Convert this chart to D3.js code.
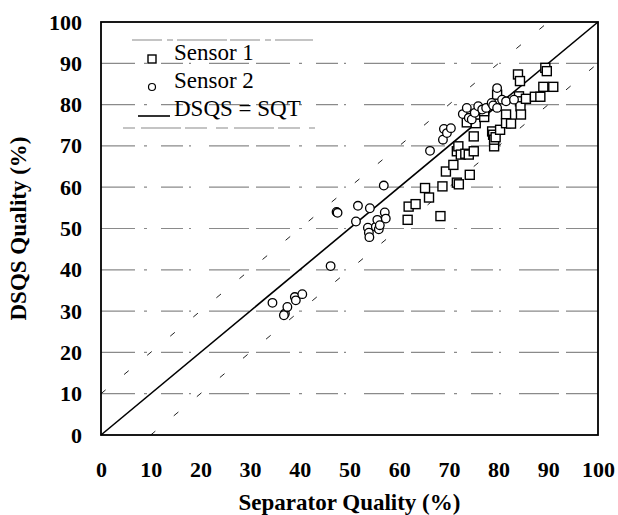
<!DOCTYPE html>
<head>
  <script src="https://d3js.org/d3.v7.min.js"></script>
  <style>
    body {
      margin: 0;
      overflow: hidden;
      background: white;
    }
    text {
      font-family: 'Liberation Serif', 'Times New Roman', serif;
    }
  </style>
</head>
<body>
  <svg width="618" height="515"></svg>
  <script>
    (function (d3) {
      'use strict';

      // Sensor 1 (squares)
      const sensor1X = [61.7, 61.9, 63.3, 65.2, 66.0, 68.3, 68.7, 69.4, 70.9, 71.6, 72.0, 71.6, 71.9, 72.4, 73.3, 74.0,
        74.2, 75.0, 75.0, 73.6, 75.4, 75.7, 77.1, 77.1, 78.7, 78.9, 79.1, 79.1, 79.4, 80.3, 79.7, 81.5, 81.5, 82.5,
        83.9, 84.3, 84.1, 84.3, 84.4, 84.5, 85.5, 87.3, 88.4, 89.0, 89.4, 89.7, 91.0];
      const sensor1Y = [52.1, 55.3, 55.9, 59.8, 57.5, 53.0, 60.2, 63.8, 65.4, 61.1, 60.7, 68.7, 69.9, 67.9, 68.1, 67.9,
        63.0, 68.7, 72.3, 75.7, 75.5, 77.6, 77.0, 78.4, 73.5, 72.7, 69.9, 71.5, 72.1, 73.9, 82.4, 77.6, 75.5, 75.4,
        87.3, 85.7, 82.0, 80.8, 79.6, 77.6, 81.4, 81.9, 81.9, 84.3, 88.9, 88.1, 84.3];

      // Sensor 2 (circles)
      const sensor2X = [34.5, 37.0, 36.8, 37.5, 39.0, 39.2, 40.5, 46.2, 47.4, 47.6, 51.3, 51.7, 54.1, 53.7, 53.9, 54.0,
        55.3, 55.6, 55.9, 56.1, 56.9, 57.1, 57.3, 66.2, 68.8, 69.0, 69.6, 70.4, 72.8, 73.6, 74.0, 74.6, 75.2, 75.9,
        76.7, 77.5, 78.6, 78.9, 79.7, 79.7, 80.7, 81.5, 83.1];
      const sensor2Y = [32.0, 29.4, 29.0, 31.0, 33.4, 32.6, 34.1, 40.9, 54.0, 53.8, 51.7, 55.5, 54.9, 50.2, 49.0, 47.9,
        50.4, 52.1, 49.8, 50.8, 60.4, 53.9, 52.4, 68.8, 71.5, 74.1, 73.1, 74.3, 77.7, 79.2, 76.8, 76.4, 78.0, 79.6,
        78.8, 79.2, 80.4, 79.8, 84.0, 79.2, 81.2, 80.8, 81.2];

      const xTicks = [0, 10, 20, 30, 40, 50, 60, 70, 80, 90, 100];
      const yTicks = [0, 10, 20, 30, 40, 50, 60, 70, 80, 90, 100];
      const gridValues = [10, 20, 30, 40, 50, 60, 70, 80, 90];
      const legendLabels = ['Sensor 1', 'Sensor 2', 'DSQS = SQT'];

      const svg = d3.select('svg');
      const margin = { top: 22, right: 20, bottom: 80, left: 101 };
      const innerWidth = 598 - margin.left;
      const innerHeight = 435 - margin.top;

      const xScale = d3.scaleLinear().domain([0, 100]).range([0, innerWidth]);
      const yScale = d3.scaleLinear().domain([0, 100]).range([innerHeight, 0]);

      const g = svg.append('g')
        .attr('transform', `translate(${margin.left},${margin.top})`);

      // faint broken gridlines (scan remains)
      g.selectAll('.grid').data(gridValues)
        .enter().append('line')
          .attr('class', 'grid')
          .attr('x1', 0)
          .attr('x2', innerWidth)
          .attr('y1', d => yScale(d))
          .attr('y2', d => yScale(d))
          .attr('stroke', '#8a8a8a')
          .attr('stroke-width', 1.2)
          .attr('stroke-dasharray', '34,9,3,14,22,6,2,18,40,7');

      // +/-10 dashed bands
      g.append('line')
        .attr('x1', xScale(0)).attr('y1', yScale(10))
        .attr('x2', xScale(90)).attr('y2', yScale(100))
        .attr('stroke', '#222').attr('stroke-width', 1)
        .attr('stroke-dasharray', '6,24');
      g.append('line')
        .attr('x1', xScale(10)).attr('y1', yScale(0))
        .attr('x2', xScale(100)).attr('y2', yScale(90))
        .attr('stroke', '#222').attr('stroke-width', 1)
        .attr('stroke-dasharray', '6,24');

      // DSQS = SQT
      g.append('line')
        .attr('x1', xScale(0)).attr('y1', yScale(0))
        .attr('x2', xScale(100)).attr('y2', yScale(100))
        .attr('stroke', 'black').attr('stroke-width', 1.6);

      const s1 = sensor1X.map((x, i) => ({ x, y: sensor1Y[i] }));
      const s2 = sensor2X.map((x, i) => ({ x, y: sensor2Y[i] }));
      const sq = 9;

      g.selectAll('.s1').data(s1)
        .enter().append('rect')
          .attr('class', 's1')
          .attr('x', d => xScale(d.x) - sq / 2)
          .attr('y', d => yScale(d.y) - sq / 2)
          .attr('width', sq)
          .attr('height', sq)
          .attr('fill', 'white')
          .attr('stroke', 'black')
          .attr('stroke-width', 1.4);

      g.selectAll('.s2').data(s2)
        .enter().append('circle')
          .attr('class', 's2')
          .attr('cx', d => xScale(d.x))
          .attr('cy', d => yScale(d.y))
          .attr('r', 4.3)
          .attr('fill', 'white')
          .attr('stroke', 'black')
          .attr('stroke-width', 1.3);

      // frame
      g.append('rect')
        .attr('width', innerWidth)
        .attr('height', innerHeight)
        .attr('fill', 'none')
        .attr('stroke', 'black')
        .attr('stroke-width', 1.8);

      // axes, labels only
      const xAxisG = g.append('g')
        .attr('transform', `translate(0,${innerHeight})`)
        .call(d3.axisBottom(xScale).tickValues(xTicks).tickSize(0).tickPadding(26));
      xAxisG.select('.domain').remove();
      xAxisG.selectAll('text')
        .attr('font-size', 22)
        .attr('font-weight', 'bold')
        .attr('fill', 'black')
        .style('font-family', "'Liberation Serif', serif");

      const yAxisG = g.append('g')
        .call(d3.axisLeft(yScale).tickValues(yTicks).tickSize(0).tickPadding(19));
      yAxisG.select('.domain').remove();
      yAxisG.selectAll('text')
        .attr('font-size', 22)
        .attr('font-weight', 'bold')
        .attr('fill', 'black')
        .style('font-family', "'Liberation Serif', serif");

      svg.append('text')
        .attr('x', margin.left + innerWidth / 2)
        .attr('y', 510)
        .attr('text-anchor', 'middle')
        .attr('font-size', 23)
        .attr('font-weight', 'bold')
        .text('Separator Quality (%)');

      svg.append('text')
        .attr('transform', `translate(26,${margin.top + innerHeight / 2}) rotate(-90)`)
        .attr('text-anchor', 'middle')
        .attr('font-size', 23)
        .attr('font-weight', 'bold')
        .text('DSQS Quality (%)');

      // legend
      const legend = svg.append('g');
      legend.append('line')
        .attr('x1', 132).attr('x2', 313).attr('y1', 40).attr('y2', 40)
        .attr('stroke', '#8a8a8a').attr('stroke-width', 1.1)
        .attr('stroke-dasharray', '30,5,6,4,50,3');
      legend.append('line')
        .attr('x1', 123).attr('x2', 315).attr('y1', 128).attr('y2', 128)
        .attr('stroke', '#8a8a8a').attr('stroke-width', 1.1)
        .attr('stroke-dasharray', '12,6,40,4,22,9');
      legend.append('rect')
        .attr('x', 148).attr('y', 55).attr('width', 8).attr('height', 8)
        .attr('fill', 'white').attr('stroke', 'black').attr('stroke-width', 1.4);
      legend.append('circle')
        .attr('cx', 152).attr('cy', 87).attr('r', 3.5)
        .attr('fill', 'white').attr('stroke', 'black').attr('stroke-width', 1.2);
      legend.append('line')
        .attr('x1', 138).attr('x2', 170).attr('y1', 116).attr('y2', 116)
        .attr('stroke', 'black').attr('stroke-width', 1.6);
      legend.selectAll('.lab').data(legendLabels)
        .enter().append('text')
          .attr('class', 'lab')
          .attr('x', 174)
          .attr('y', (d, i) => 60 + i * 28)
          .attr('font-size', 23)
          .text(d => d);

    }(d3));
  </script>
</body>
